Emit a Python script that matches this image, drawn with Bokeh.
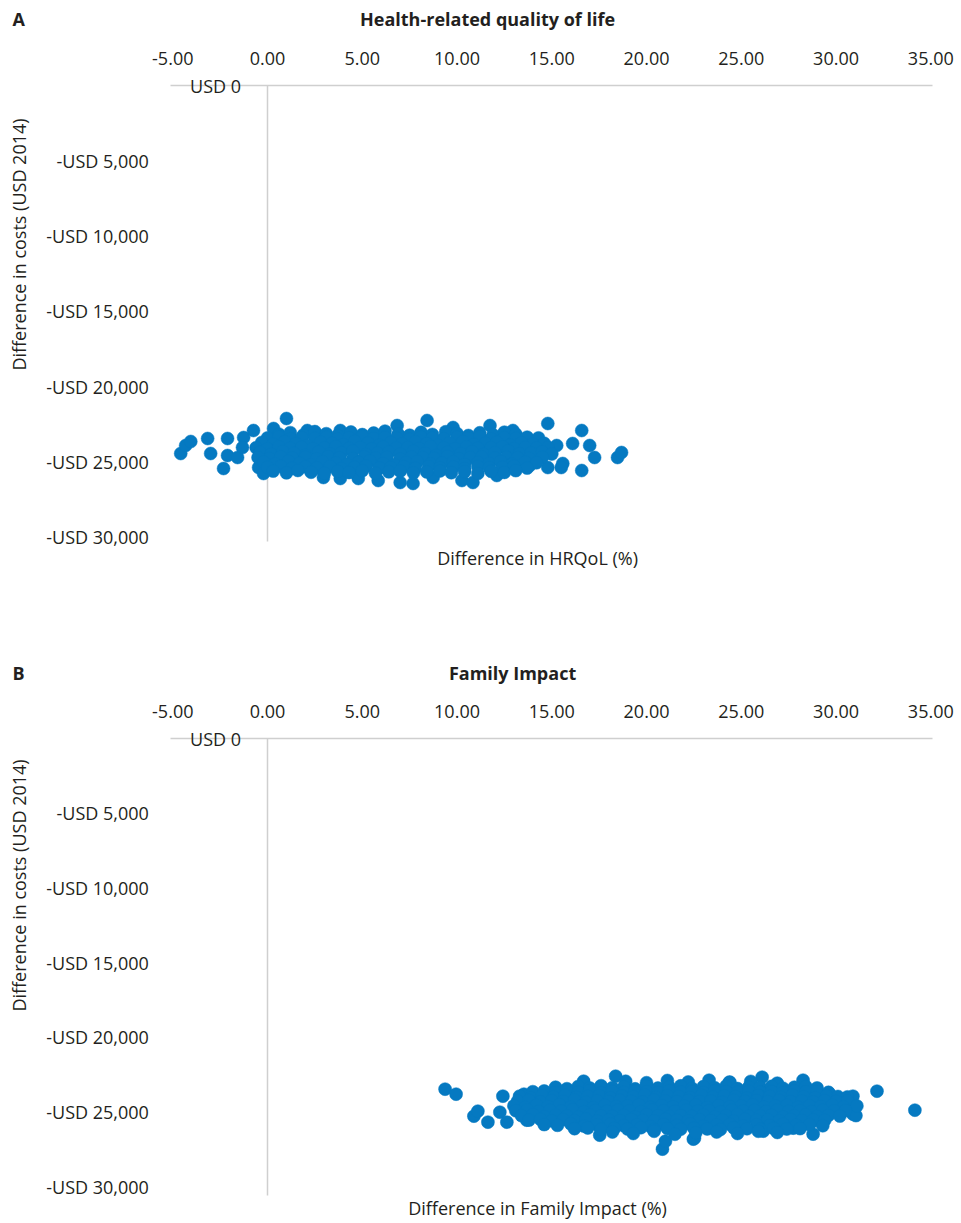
from math import pi
from bokeh.plotting import figure
from bokeh.models import (Range1d, FixedTicker, Label, LinearAxis,
                          NumeralTickFormatter)
from bokeh.layouts import column
from bokeh.embed import file_html
from bokeh.resources import INLINE

# ---------------- data ----------------
x_ticks = [-5, 0, 5, 10, 15, 20, 25, 30, 35]
y_ticks = [-5000, -10000, -15000, -20000, -25000, -30000]
y_tick_labels = ["-USD 5,000", "-USD 10,000", "-USD 15,000", "-USD 20,000", "-USD 25,000", "-USD 30,000"]
zero_label = "USD 0"

panel_letters = ["A", "B"]
panel_titles = ["Health-related quality of life", "Family Impact"]
x_labels = ["Difference in HRQoL (%)", "Difference in Family Impact (%)"]
y_label = "Difference in costs (USD 2014)"

# Panel A: difference in HRQoL (%) vs difference in costs (USD 2014)
hrqol_diff = [
    # scattered points around the cloud
    -4.58, -4.32, -4.05, -3.16, -3.0, -2.32, -2.11, -2.11, -1.58, -1.26, -1.32, -0.74,
    -0.47, -0.21, 0.32, 1.0, 2.1, 3.84, 6.84, 8.42, 9.79, 11.74, 12.95, 14.79, 16.58,
    16.1, 17.0, 17.26, 16.58, 18.47, 18.68, 15.58, 14.79, 13.84, 2.95, 3.84, 4.79, 5.84,
    7.0, 7.68, 8.74, 10.26, 10.84, 12.1, 15.26, 15.5,
    # dense cloud
    0.6, 1.2, 1.9, 2.5, 3.1, 3.7, 4.4, 5.0, 5.6, 6.2, 6.9, 7.5, 8.1, 8.7, 9.4, 10.0, 10.6,
    11.2, 11.9, 12.5, 13.1,
    0.0, 0.6, 1.2, 1.8, 2.5, 3.1, 3.7, 4.3, 5.0, 5.6, 6.2, 6.8, 7.5, 8.1, 8.7, 9.3, 10.0,
    10.6, 11.2, 11.8, 12.5, 13.1, 13.7, 14.3,
    -0.3, 0.3, 0.9, 1.5, 2.1, 2.8, 3.4, 4.0, 4.6, 5.3, 5.9, 6.5, 7.1, 7.8, 8.4, 9.0, 9.6,
    10.3, 10.9, 11.5, 12.1, 12.8, 13.4, 14.0, 14.6,
    -0.6, 0.0, 0.6, 1.2, 1.8, 2.4, 3.0, 3.6, 4.3, 4.9, 5.5, 6.1, 6.8, 7.4, 8.0, 8.6, 9.3,
    9.9, 10.5, 11.1, 11.8, 12.4, 13.0, 13.6, 14.2, 14.8,
    -0.4, 0.2, 0.8, 1.4, 2.0, 2.7, 3.3, 3.9, 4.5, 5.2, 5.8, 6.4, 7.0, 7.7, 8.3, 8.9, 9.5,
    10.2, 10.8, 11.4, 12.0, 12.7, 13.3, 13.9, 14.5, 15.0,
    -0.5, 0.1, 0.7, 1.3, 2.0, 2.6, 3.2, 3.8, 4.5, 5.1, 5.7, 6.3, 7.0, 7.6, 8.2, 8.8, 9.5,
    10.1, 10.7, 11.3, 12.0, 12.6, 13.2, 13.8, 14.5,
    -0.2, 0.4, 1.1, 1.7, 2.3, 2.9, 3.6, 4.2, 4.8, 5.4, 6.1, 6.7, 7.3, 7.9, 8.6, 9.2, 9.8,
    10.4, 11.1, 11.7, 12.3, 12.9, 13.6, 14.2,
    0.0, 0.7, 1.3, 2.0, 2.6, 3.3, 3.9, 4.6, 5.2, 5.9, 6.5, 7.2, 7.8, 8.5, 9.1, 9.8, 10.4,
    11.1, 11.7, 12.4, 13.0, 13.7,
    0.3, 1.0, 1.6, 2.3, 3.0, 3.7, 4.3, 5.0, 5.7, 6.4, 7.0, 7.7, 8.4, 9.1, 9.7, 10.4, 11.1,
    11.8, 12.5, 13.1,
]
hrqol_cost = [
    -24435, -23904, -23638, -23439, -24435, -25431, -24568, -23439, -24701, -23373, -24037, -22908,
    -25365, -25763, -22775, -22111, -22908, -22908, -22576, -22244, -22709, -22576, -22908, -22443, -22908,
    -23771, -23904, -24701, -25564, -24701, -24369, -25099, -25365, -25232, -26029, -26095, -26095, -26228,
    -26361, -26427, -26029, -26228, -26361, -25896, -23904, -25365,
    -23150, -23050, -23200, -22980, -23120, -23250, -23010, -23180, -23080, -22950, -23140, -23220, -23030,
    -23170, -22990, -23110, -23240, -23060, -23190, -23020, -23150,
    -23400, -23330, -23460, -23380, -23420, -23350, -23470, -23390, -23310, -23440, -23370, -23410, -23480,
    -23340, -23400, -23450, -23360, -23420, -23320, -23470, -23390, -23430, -23350, -23400,
    -23700, -23820, -23650, -23780, -23900, -23690, -23760, -23850, -23620, -23740, -23880, -23710, -23800,
    -23660, -23770, -23890, -23730, -23640, -23830, -23750, -23680, -23870, -23720, -23810, -23760,
    -24050, -24120, -23990, -24080, -24020, -24110, -24060, -23980, -24090, -24030, -24130, -24000, -24070,
    -24040, -24100, -23970, -24060, -24120, -24010, -24080, -24050, -23990, -24110, -24030, -24070, -24020,
    -24350, -24480, -24300, -24420, -24550, -24330, -24460, -24380, -24270, -24500, -24410, -24340, -24470,
    -24290, -24430, -24560, -24360, -24440, -24310, -24490, -24380, -24260, -24450, -24400, -24320, -24470,
    -24700, -24760, -24650, -24730, -24680, -24790, -24640, -24720, -24770, -24660, -24740, -24690, -24800,
    -24670, -24710, -24750, -24630, -24780, -24700, -24660, -24740, -24690, -24720, -24760, -24680,
    -25000, -25120, -24950, -25080, -25180, -24980, -25060, -25150, -25020, -24930, -25110, -25190, -25040,
    -24970, -25130, -25070, -24990, -25160, -25030, -25100, -24960, -25140, -25010, -25050,
    -25350, -25280, -25410, -25320, -25390, -25300, -25430, -25340, -25270, -25400, -25360, -25310, -25420,
    -25290, -25380, -25330, -25440, -25300, -25370, -25340, -25280, -25400,
    -25600, -25720, -25560, -25680, -25750, -25620, -25700, -25580, -25740, -25650, -25610, -25730, -25660,
    -25590, -25710, -25640, -25760, -25620, -25690, -25570,
]

# Panel B: difference in Family Impact (%) vs difference in costs (USD 2014)
family_diff = [
    # scattered points around the cloud
    9.37, 9.95, 10.89, 11.1, 11.63, 12.26, 12.42, 12.63, 13.53, 13.68, 16.68, 18.37, 17.53,
    20.84, 21.0, 22.47, 26.1, 28.26, 26.16, 28.79, 29.63, 29.26, 30.89, 30.89, 31.05, 32.16,
    34.16, 27.74, 22.53, 24.37, 28.95,
    # dense cloud
    18.9, 20.0, 21.1, 22.2, 23.3, 24.4, 25.5, 26.9,
    15.2, 15.8, 16.4, 17.0, 17.6, 18.2, 18.8, 19.4, 20.0, 20.6, 21.2, 21.8, 22.4, 23.0, 23.6,
    24.2, 24.8, 25.4, 26.0, 26.6, 27.2, 27.8, 28.4, 29.0,
    14.0, 14.6, 15.2, 15.8, 16.4, 17.0, 17.6, 18.2, 18.8, 19.4, 20.0, 20.6, 21.2, 21.8, 22.4,
    23.0, 23.6, 24.2, 24.8, 25.4, 26.0, 26.6, 27.2, 27.8, 28.4, 29.0, 29.6,
    13.3, 13.9, 14.5, 15.1, 15.7, 16.3, 16.9, 17.5, 18.1, 18.7, 19.3, 19.9, 20.5, 21.1, 21.7,
    22.3, 22.9, 23.5, 24.1, 24.7, 25.3, 25.9, 26.5, 27.1, 27.7, 28.3, 28.9, 29.5, 30.1, 30.6,
    13.2, 13.8, 14.4, 15.0, 15.6, 16.2, 16.8, 17.4, 18.0, 18.6, 19.2, 19.8, 20.4, 21.0, 21.6,
    22.2, 22.8, 23.4, 24.0, 24.6, 25.2, 25.8, 26.4, 27.0, 27.6, 28.2, 28.8, 29.4, 30.0, 30.6,
    13.0, 13.6, 14.2, 14.8, 15.4, 16.0, 16.6, 17.2, 17.8, 18.4, 19.0, 19.6, 20.2, 20.8, 21.4,
    22.0, 22.6, 23.2, 23.8, 24.4, 25.0, 25.6, 26.2, 26.8, 27.4, 28.0, 28.6, 29.2, 29.8, 30.4, 31.1,
    13.1, 13.7, 14.3, 14.9, 15.5, 16.1, 16.7, 17.3, 17.9, 18.5, 19.1, 19.7, 20.3, 20.9, 21.5,
    22.1, 22.7, 23.3, 23.9, 24.5, 25.1, 25.7, 26.3, 26.9, 27.5, 28.1, 28.7, 29.3, 29.9, 30.5,
    13.4, 14.0, 14.6, 15.2, 15.8, 16.4, 17.0, 17.6, 18.2, 18.8, 19.4, 20.0, 20.6, 21.2, 21.8,
    22.4, 23.0, 23.6, 24.2, 24.8, 25.4, 26.0, 26.6, 27.2, 27.8, 28.4, 29.0, 29.6, 30.2,
    13.8, 14.4, 15.0, 15.6, 16.2, 16.8, 17.4, 18.0, 18.6, 19.2, 19.8, 20.4, 21.0, 21.6, 22.2,
    22.8, 23.4, 24.0, 24.6, 25.2, 25.8, 26.4, 27.0, 27.6, 28.2, 28.8, 29.4,
    14.6, 15.3, 16.0, 16.7, 17.4, 18.1, 18.8, 19.5, 20.2, 20.9, 21.6, 22.3, 23.0, 23.7, 24.4,
    25.1, 25.8, 26.5, 27.2, 27.9, 28.6, 29.3,
    16.2, 16.9, 17.6, 18.3, 19.0, 19.7, 20.4, 21.1, 21.8, 22.5, 23.2, 23.9, 24.6, 25.3, 26.0,
    26.7, 27.4, 28.1,
    18.2, 19.3, 20.4, 21.5, 22.6, 23.7, 24.8, 25.9, 26.9,
]
family_cost = [
    -23482, -23816, -25288, -24954, -25690, -25021, -23950, -25690, -23816, -25556, -22947, -22612, -26559,
    -27496, -26961, -26827, -22679, -22880, -26292, -26492, -23750, -24485, -23950, -25154, -25250, -23616,
    -24887, -26091, -26760, -23014, -25556,
    -22950, -23050, -22900, -23000, -22880, -23020, -22960, -23080,
    -23350, -23450, -23300, -23400, -23250, -23380, -23320, -23460, -23280, -23410, -23340, -23260, -23430,
    -23310, -23390, -23270, -23440, -23330, -23360, -23290, -23420, -23350, -23300, -23400,
    -23650, -23600, -23700, -23620, -23680, -23580, -23720, -23640, -23690, -23610, -23660, -23700, -23590,
    -23670, -23630, -23710, -23600, -23650, -23690, -23620, -23680, -23640, -23700, -23610, -23660, -23630,
    -23690,
    -23950, -24050, -23900, -24000, -23880, -24020, -23960, -23920, -24060, -23940, -23990, -23870, -24030,
    -23910, -23970, -24040, -23890, -24010, -23930, -23980, -24070, -23900, -23960, -24020, -23880, -23990,
    -24050, -23920, -23970, -24000,
    -24275, -24220, -24330, -24250, -24300, -24200, -24350, -24260, -24310, -24230, -24290, -24340, -24210,
    -24280, -24320, -24240, -24300, -24270, -24350, -24220, -24290, -24250, -24320, -24230, -24310, -24270,
    -24340, -24240, -24290, -24260,
    -24600, -24700, -24550, -24650, -24520, -24680, -24590, -24720, -24560, -24640, -24610, -24530, -24690,
    -24570, -24660, -24620, -24540, -24710, -24580, -24650, -24600, -24530, -24680, -24610, -24560, -24700,
    -24590, -24640, -24550, -24670, -24600,
    -24925, -24870, -24980, -24900, -24950, -24860, -25000, -24910, -24960, -24880, -24940, -24990, -24870,
    -24930, -24970, -24890, -24950, -24920, -25000, -24880, -24940, -24900, -24970, -24880, -24960, -24920,
    -24990, -24890, -24940, -24910,
    -25250, -25180, -25320, -25220, -25280, -25350, -25200, -25270, -25300, -25230, -25340, -25190, -25260,
    -25310, -25240, -25290, -25210, -25330, -25250, -25180, -25300, -25270, -25220, -25340, -25260, -25200,
    -25310, -25240, -25280,
    -25550, -25500, -25600, -25520, -25580, -25480, -25620, -25540, -25590, -25510, -25570, -25610, -25490,
    -25560, -25600, -25530, -25580, -25550, -25620, -25500, -25570, -25530, -25600, -25510, -25580, -25540,
    -25560,
    -25850, -25900, -25800, -25950, -25870, -25820, -25920, -25860, -25980, -25840, -25900, -25810, -25960,
    -25880, -25830, -25940, -25870, -25910, -25820, -25890, -25850, -25930,
    -26125, -26080, -26170, -26100, -26150, -26060, -26190, -26110, -26160, -26090, -26140, -26180, -26070,
    -26130, -26160, -26100, -26150, -26120,
    -26350, -26450, -26300, -26500, -26400, -26350, -26450, -26300, -26380,
]

# ---------------- style ----------------
FONT = "Open Sans"
BLUE = "#0579c1"
LINE = "#cfcfcf"
TEXT = "#231f20"
FS = "18px"
X_LO, X_HI = -5.1, 35.1        # extent of the horizontal axis line


def make_panel(idx, xs, ys, height, y_view, y_line_lo, title_x, head_y, ylab_y, xlab_y):
    p = figure(width=961, height=height,
               x_range=Range1d(-14.09, 36.62), y_range=Range1d(*y_view),
               x_axis_location=None, y_axis_location=None,
               output_backend="svg", toolbar_location=None,
               min_border=0, outline_line_color=None,
               background_fill_color="white", border_fill_color="white")
    p.grid.visible = False

    # vertical axis line at x = 0
    y0 = LinearAxis(fixed_location=0, bounds=(y_line_lo, 0), ticker=FixedTicker(ticks=[]),
                    axis_line_color=LINE, axis_line_width=1.5, major_tick_line_color=None,
                    minor_tick_line_color=None, major_label_text_font_size="0px",
                    level="underlay")
    p.add_layout(y0, "left")

    # horizontal axis (cost = 0) with labels on top
    xa = LinearAxis(fixed_location=0, bounds=(X_LO, X_HI), ticker=FixedTicker(ticks=x_ticks),
                    formatter=NumeralTickFormatter(format="0.00"),
                    axis_line_color=LINE, axis_line_width=1.5,
                    major_tick_line_color=None, minor_tick_line_color=None,
                    major_tick_in=0, major_tick_out=0, major_label_standoff=21,
                    major_label_text_font=FONT, major_label_text_font_size=FS,
                    major_label_text_color=TEXT, level="underlay")
    p.add_layout(xa, "above")

    # cost labels on the left
    ya = LinearAxis(fixed_location=X_LO, ticker=FixedTicker(ticks=y_ticks),
                    major_label_overrides={t: s for t, s in zip(y_ticks, y_tick_labels)},
                    axis_line_color=None, major_tick_line_color=None,
                    minor_tick_line_color=None, major_tick_in=0, major_tick_out=0,
                    major_label_standoff=22, major_label_text_font=FONT,
                    major_label_text_font_size=FS, major_label_text_color=TEXT)
    p.add_layout(ya, "left")

    p.scatter(xs, ys, size=13, marker="circle", fill_color=BLUE, line_color=BLUE,
              line_width=0.5)

    p.add_layout(Label(x=-2.74, y=0, text=zero_label, text_align="center",
                       text_baseline="middle", text_font=FONT, text_font_size=FS,
                       text_color=TEXT))
    p.add_layout(Label(x=-13.46, y=head_y, text=panel_letters[idx], text_align="left",
                       text_baseline="middle", text_font=FONT, text_font_size=FS,
                       text_font_style="bold", text_color=TEXT))
    p.add_layout(Label(x=title_x, y=head_y, text=panel_titles[idx], text_align="center",
                       text_baseline="middle", text_font=FONT, text_font_size=FS,
                       text_font_style="bold", text_color=TEXT))
    p.add_layout(Label(x=-13.14, y=ylab_y, text=y_label, angle=pi / 2,
                       text_align="center", text_baseline="middle", text_font=FONT,
                       text_font_size=FS, text_color=TEXT))
    p.add_layout(Label(x=14.25, y=xlab_y, text=x_labels[idx], text_align="center",
                       text_baseline="middle", text_font=FONT, text_font_size=FS,
                       text_color=TEXT))
    return p


pa = make_panel(0, hrqol_diff, hrqol_cost, height=661, y_view=(-38246, 5644),
                y_line_lo=-30278, title_x=11.61, head_y=4400, ylab_y=-10558, xlab_y=-31341)
pb = make_panel(1, family_diff, family_cost, height=562, y_view=(-32476, 5156),
                y_line_lo=-30601, title_x=12.93, head_y=4419, ylab_y=-9843, xlab_y=-31471)

layout = column(pa, pb, spacing=0)
open("out.html", "w").write(file_html(layout, INLINE))
